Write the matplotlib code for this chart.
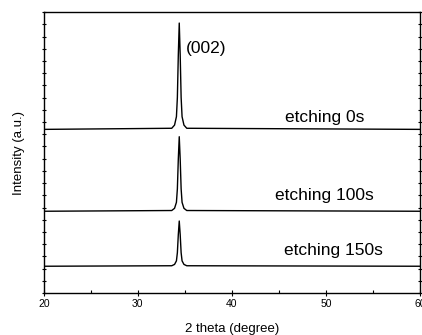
import matplotlib
matplotlib.use("Agg")
import matplotlib.pyplot as plt
from matplotlib.ticker import MultipleLocator

plt.rcParams['font.family'] = ['Liberation Sans', 'DejaVu Sans']

# 2 theta points around the (002) peak
two_theta = [20, 33.6, 33.9, 34.1, 34.2, 34.3, 34.4, 34.5, 34.6, 34.7, 34.9, 35.2, 60]
# intensity (a.u., offset) for each sample
etch_0s = [13.4, 13.49, 13.75, 14.44, 16.01, 19.49, 22.1, 19.49, 16.01, 14.44, 13.75, 13.49, 13.4]
etch_100s = [6.7, 6.76, 6.94, 7.43, 8.53, 10.97, 12.8, 10.97, 8.53, 7.43, 6.94, 6.76, 6.7]
etch_150s = [2.2, 2.24, 2.35, 2.64, 3.31, 4.79, 5.9, 4.79, 3.31, 2.64, 2.35, 2.24, 2.2]
labels = ["etching 0s", "etching 100s", "etching 150s"]
label_pos = [(45.6, 14.4), (44.6, 7.95), (45.5, 3.45)]

fig = plt.figure(figsize=(4.22, 3.35), dpi=100)
ax = fig.add_axes([0.104, 0.125, 0.891, 0.839])

for y in [etch_0s, etch_100s, etch_150s]:
    ax.plot(two_theta, y, c='black', lw=1.0)

for lab, (tx, ty) in zip(labels, label_pos):
    ax.text(tx, ty, lab, fontsize=12.5, va='center', ha='left')
ax.text(35.1, 20.0, "(002)", fontsize=12.5, va='center', ha='left')

ax.set_xlim(20, 60)
ax.set_ylim(0, 23)
ax.xaxis.set_major_locator(MultipleLocator(10))
ax.xaxis.set_minor_locator(MultipleLocator(5))
ax.yaxis.set_major_locator(MultipleLocator(1))
ax.tick_params(axis='x', which='major', direction='inout', length=4, width=0.8, labelsize=7.5, pad=2)
ax.tick_params(axis='x', which='minor', direction='in', length=2.5, width=0.8)
ax.tick_params(axis='y', which='major', direction='inout', length=3, width=0.8,
               left=True, right=True, labelleft=False)
for s in ax.spines.values():
    s.set_linewidth(1.0)

ax.set_xlabel("2 theta (degree)", fontsize=9.5, labelpad=10)
ax.set_ylabel("Intensity (a.u.)", fontsize=9.5, labelpad=12)

fig.savefig("out.png", dpi=100)
